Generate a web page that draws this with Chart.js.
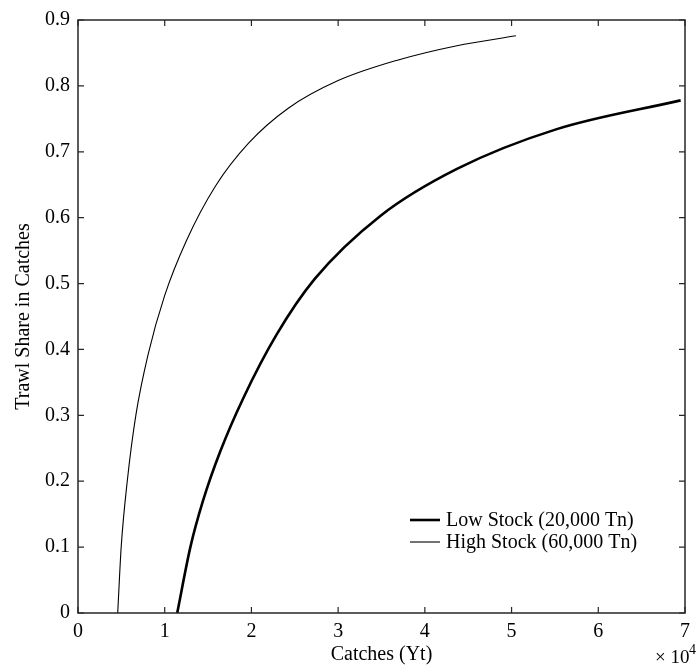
<!DOCTYPE html>
<html>
<head>
<meta charset="utf-8">
<script src="https://cdn.jsdelivr.net/npm/chart.js@4.4.1/dist/chart.umd.min.js"></script>
<style>
  html, body { margin: 0; padding: 0; background: #fff; }
  #wrap { width: 697px; height: 667px; }
</style>
</head>
<body>
<div id="wrap"><canvas id="shareChart" width="697" height="667"></canvas></div>
<script>
// catches are in units of 10^4 Yt, share is a fraction of total catch
const lowStockCatch = [1.144, 1.296, 1.441, 1.64, 1.906, 2.288, 2.73, 3.49, 4.37, 5.513, 6.95];
const lowStockShare = [0, 0.10, 0.170, 0.245, 0.326, 0.422, 0.507, 0.603, 0.674, 0.734, 0.778];
const highStockCatch = [0.458, 0.498, 0.568, 0.667, 0.808, 1.0, 1.25, 1.586, 1.967, 2.425, 3.0, 3.683, 4.37, 5.05];
const highStockShare = [0, 0.10, 0.20, 0.30, 0.392, 0.482, 0.565, 0.648, 0.713, 0.766, 0.808, 0.839, 0.861, 0.876];
const seriesLabels = ['Low Stock (20,000 Tn)', 'High Stock (60,000 Tn)'];
const xTicks = [0, 1, 2, 3, 4, 5, 6, 7];
const yTicks = [0, 0.1, 0.2, 0.3, 0.4, 0.5, 0.6, 0.7, 0.8, 0.9];

const SERIF = '"Liberation Serif", "DejaVu Serif", serif';

function toPoints(xs, ys) {
  return xs.map((x, i) => ({ x: x, y: ys[i] }));
}

// box around the plot with inward ticks on all four sides
const boxPlugin = {
  id: 'box',
  afterDraw(chart) {
    const { ctx, chartArea: a, scales } = chart;
    ctx.save();
    ctx.strokeStyle = '#262626';
    ctx.lineWidth = 1.5;
    ctx.strokeRect(a.left, a.top, a.right - a.left, a.bottom - a.top);
    ctx.lineWidth = 1.2;
    const len = 6;
    ctx.beginPath();
    xTicks.forEach(v => {
      const px = scales.x.getPixelForValue(v);
      ctx.moveTo(px, a.bottom); ctx.lineTo(px, a.bottom - len);
      ctx.moveTo(px, a.top); ctx.lineTo(px, a.top + len);
    });
    yTicks.forEach(v => {
      const py = scales.y.getPixelForValue(v);
      ctx.moveTo(a.left, py); ctx.lineTo(a.left + len, py);
      ctx.moveTo(a.right, py); ctx.lineTo(a.right - len, py);
    });
    ctx.stroke();

    // exponent under the x axis
    ctx.fillStyle = '#000';
    ctx.textBaseline = 'alphabetic';
    ctx.textAlign = 'left';
    ctx.font = '19px ' + SERIF;
    ctx.fillText('\u00d7 10', 655, 663);
    ctx.font = '14px ' + SERIF;
    ctx.fillText('4', 689, 654);
    ctx.restore();
  }
};

// legend without a frame, inside the lower right of the plot
const legendPlugin = {
  id: 'insideLegend',
  afterDraw(chart) {
    const { ctx } = chart;
    ctx.save();
    ctx.font = '20px ' + SERIF;
    ctx.fillStyle = '#000';
    ctx.textBaseline = 'middle';
    chart.data.datasets.forEach((ds, i) => {
      const y = 520 + i * 22;
      ctx.strokeStyle = ds.borderColor;
      ctx.lineWidth = ds.borderWidth;
      ctx.beginPath();
      ctx.moveTo(410, y);
      ctx.lineTo(440, y);
      ctx.stroke();
      ctx.fillText(ds.label, 446, y + 1);
    });
    ctx.restore();
  }
};

new Chart(document.getElementById('shareChart'), {
  type: 'line',
  data: {
    datasets: [
      {
        label: seriesLabels[0],
        data: toPoints(lowStockCatch, lowStockShare),
        borderColor: '#000',
        borderWidth: 2.6,
        pointRadius: 0,
        cubicInterpolationMode: 'monotone',
        fill: false
      },
      {
        label: seriesLabels[1],
        data: toPoints(highStockCatch, highStockShare),
        borderColor: '#000',
        borderWidth: 1.1,
        pointRadius: 0,
        cubicInterpolationMode: 'monotone',
        fill: false
      }
    ]
  },
  options: {
    responsive: false,
    devicePixelRatio: 1,
    animation: false,
    layout: { padding: { top: 16, right: 7, left: 0, bottom: 0 } },
    plugins: {
      legend: { display: false },
      tooltip: { enabled: false }
    },
    scales: {
      x: {
        type: 'linear',
        min: 0,
        max: 7,
        afterBuildTicks: scale => { scale.ticks = xTicks.map(v => ({ value: v })); },
        afterFit: scale => { scale.height = 54; },
        grid: { display: false, drawTicks: false },
        border: { display: false },
        ticks: {
          color: '#000',
          padding: 7,
          maxRotation: 0,
          font: { family: SERIF, size: 20 },
          callback: v => String(v)
        },
        title: {
          display: true,
          text: 'Catches (Yt)',
          color: '#000',
          font: { family: SERIF, size: 20 },
          padding: { top: 0, bottom: 0 }
        }
      },
      y: {
        type: 'linear',
        min: 0,
        max: 0.9,
        afterBuildTicks: scale => { scale.ticks = yTicks.map(v => ({ value: v })); },
        afterFit: scale => { scale.width = 78; },
        grid: { display: false, drawTicks: false },
        border: { display: false },
        ticks: {
          color: '#000',
          padding: 8,
          font: { family: SERIF, size: 20 },
          callback: v => (v === 0 ? '0' : v.toFixed(1))
        },
        title: {
          display: true,
          text: 'Trawl Share in Catches',
          color: '#000',
          font: { family: SERIF, size: 20 },
          padding: { top: 12, bottom: 0 }
        }
      }
    }
  },
  plugins: [boxPlugin, legendPlugin]
});
</script>
</body>
</html>
